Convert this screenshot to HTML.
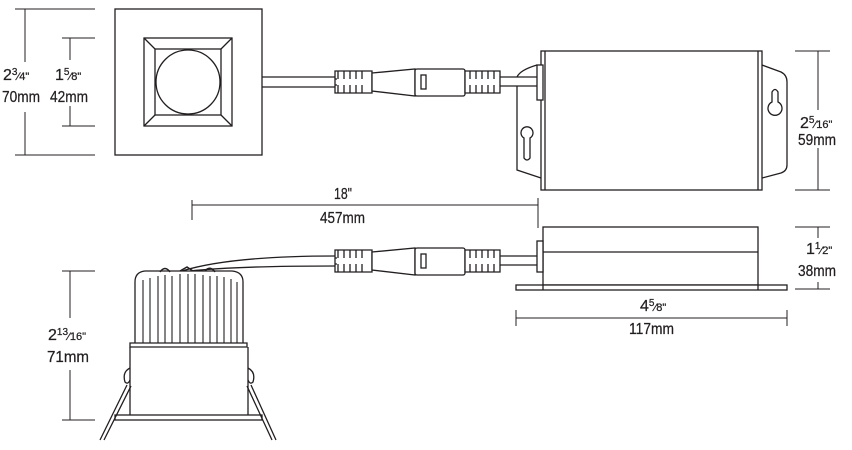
<!DOCTYPE html>
<html><head><meta charset="utf-8"><style>
html,body{margin:0;padding:0;background:#fff;}
svg{display:block}
text{font-family:"Liberation Sans Narrow","Liberation Sans",sans-serif;font-size:16px;fill:#231f20;stroke:#231f20;stroke-width:0.25}
</style></head><body>
<svg width="852" height="450" viewBox="0 0 852 450" xmlns="http://www.w3.org/2000/svg">
<defs>
<g id="conn" fill="#fff" stroke="#231f20" stroke-width="1.3">
  <path d="M335,71 h37 v22 h-37 z"/>
  <path d="M338,71 v8 M344,71 v8 M350,71 v8 M356,71 v8 M362,71 v8 M338,93 v-8 M344,93 v-8 M350,93 v-8 M356,93 v-8 M362,93 v-8 M335,79 h2 M335,85 h2" />
  <path d="M372,73 L415,69 L415,96 L372,91 z"/>
  <rect x="415" y="69" width="50" height="27" rx="2"/>
  <rect x="421" y="75" width="5" height="14"/>
  <path d="M465,71 h35 v22 h-35 z"/>
  <path d="M470,71 v8 M476,71 v8 M482,71 v8 M488,71 v8 M494,71 v8 M470,93 v-8 M476,93 v-8 M482,93 v-8 M488,93 v-8 M494,93 v-8"/>
</g>
</defs>
<g fill="none" stroke="#231f20" stroke-width="1.3">
  <rect x="115" y="9" width="147" height="146"/>
  <rect x="144" y="38" width="88" height="88"/>
  <rect x="155" y="49" width="66" height="66"/>
  <path d="M144,38 L155,49 M232,38 L221,49 M144,126 L155,115 M232,126 L221,115"/>
  <circle cx="188" cy="82" r="32"/>
  <g stroke-width="1">
  <path d="M15,9 H95 M15,155 H95 M25,9 V62 M25,112 V155"/>
  <path d="M62,38 H95 M62,126 H95 M70,38 V60 M70,106 V126"/>
  </g>
  <path d="M262,77 H335 M262,87 H335"/>
  <path d="M500,77 H537 M500,86 H537"/>
  <path d="M517,77 Q520,70 537,65 M517,86 V170 L541,178"/>
  <rect x="541" y="51" width="221" height="139" fill="#fff"/>
  <path d="M545,51 V190 M758,51 V190"/>
  <rect x="537" y="65" width="6" height="35" fill="#fff"/>
  <path d="M762,65 L781,72 Q787,75 787,82 V165 Q787,171 781,173 L762,178"/>
  <path d="M524,138 A6,6 0 1 1 530,138 V158 Q527,162 524,158 Z"/>
  <path d="M772,102 V92 Q775,87 778,92 V102 A7,7 0 1 1 772,102 Z"/>
  <g stroke-width="1"><path d="M795,51 H830 M795,190 H830 M818,51 V110 M818,148 V190"/></g>
  <g stroke-width="1"><path d="M192,205 H538 M192,200 V220 M538,198 V228"/></g>
  <path d="M182,271 Q230,256 335,256 M190,271 Q235,266 335,266"/>
  <path d="M500,256 H537 M500,265 H537"/>
  <rect x="543" y="227" width="215" height="58" fill="#fff"/>
  <path d="M543,252 H758"/>
  <rect x="516" y="285" width="271" height="5" fill="#fff"/>
  <path d="M543,285 V290 M758,285 V290"/>
  <rect x="537" y="241" width="6" height="31" fill="#fff"/>
  <g stroke-width="1"><path d="M795,227 H830 M795,289 H830 M818,227 V238 M818,282 V289"/>
  <path d="M516,318 H787 M516,310 V326 M787,310 V326"/></g>
  <path d="M135,343 V282 Q135,272 145,271 L232,271 Q243,272 243,282 V343" fill="#fff"/>
  <path d="M143,343 V280 M150,343 V278 M158,343 V276 M165,343 V275 M172,343 V276 M180,343 V274 M188,343 V274 M195,343 V274 M203,343 V275 M210,343 V276 M217,343 V276 M224,343 V277 M231,343 V279 M237,343 V282" stroke-width="1.1"/>
  <path d="M160,272 Q165,265 170,272 M180,271 L187,267 L193,271 M205,271 Q210,265 215,272" stroke-width="1.5"/>
  <path d="M130,343 H247 V347 H130 z" fill="#fff"/>
  <path d="M130,347 V415 M248,347 V415"/>
  <rect x="115" y="415" width="147" height="5" fill="#fff"/>
  <path d="M130,368 Q122,372 125,382 Q128,385 130,380 M248,368 Q256,372 253,382 Q250,385 248,380"/>
  <path d="M127,385 L100,440 M131,386 L104,440 M251,385 L276,440 M247,386 L272,440"/>
  <g stroke-width="1"><path d="M62,271 H95 M62,420 H95 M70,271 V318 M70,370 V420"/></g>
</g>
<use href="#conn"/>
<use href="#conn" transform="translate(0,179)"/>
<text x="3" y="80">2<tspan font-size="10" dy="-5">3</tspan><tspan font-size="11" dy="5">⁄4"</tspan></text>
<text x="2" y="102" textLength="38" lengthAdjust="spacingAndGlyphs">70mm</text>
<text x="55" y="80">1<tspan font-size="10" dy="-5">5</tspan><tspan font-size="11" dy="5">⁄8"</tspan></text>
<text x="50" y="102" textLength="38" lengthAdjust="spacingAndGlyphs">42mm</text>
<text x="800" y="128">2<tspan font-size="10" dy="-5">5</tspan><tspan font-size="11" dy="5">⁄16"</tspan></text>
<text x="798" y="145" textLength="38" lengthAdjust="spacingAndGlyphs">59mm</text>
<text x="334" y="199" textLength="18" lengthAdjust="spacingAndGlyphs">18"</text>
<text x="320" y="223" textLength="45" lengthAdjust="spacingAndGlyphs">457mm</text>
<text x="806" y="254">1<tspan font-size="10" dy="-5">1</tspan><tspan font-size="11" dy="5">⁄2"</tspan></text>
<text x="798" y="276" textLength="38" lengthAdjust="spacingAndGlyphs">38mm</text>
<text x="640" y="311">4<tspan font-size="10" dy="-5">5</tspan><tspan font-size="11" dy="5">⁄8"</tspan></text>
<text x="629" y="334" textLength="45" lengthAdjust="spacingAndGlyphs">117mm</text>
<text x="48" y="340">2<tspan font-size="10" dy="-5">13</tspan><tspan font-size="11" dy="5">⁄16"</tspan></text>
<text x="47" y="362" textLength="42" lengthAdjust="spacingAndGlyphs">71mm</text>
</svg>
</body></html>
